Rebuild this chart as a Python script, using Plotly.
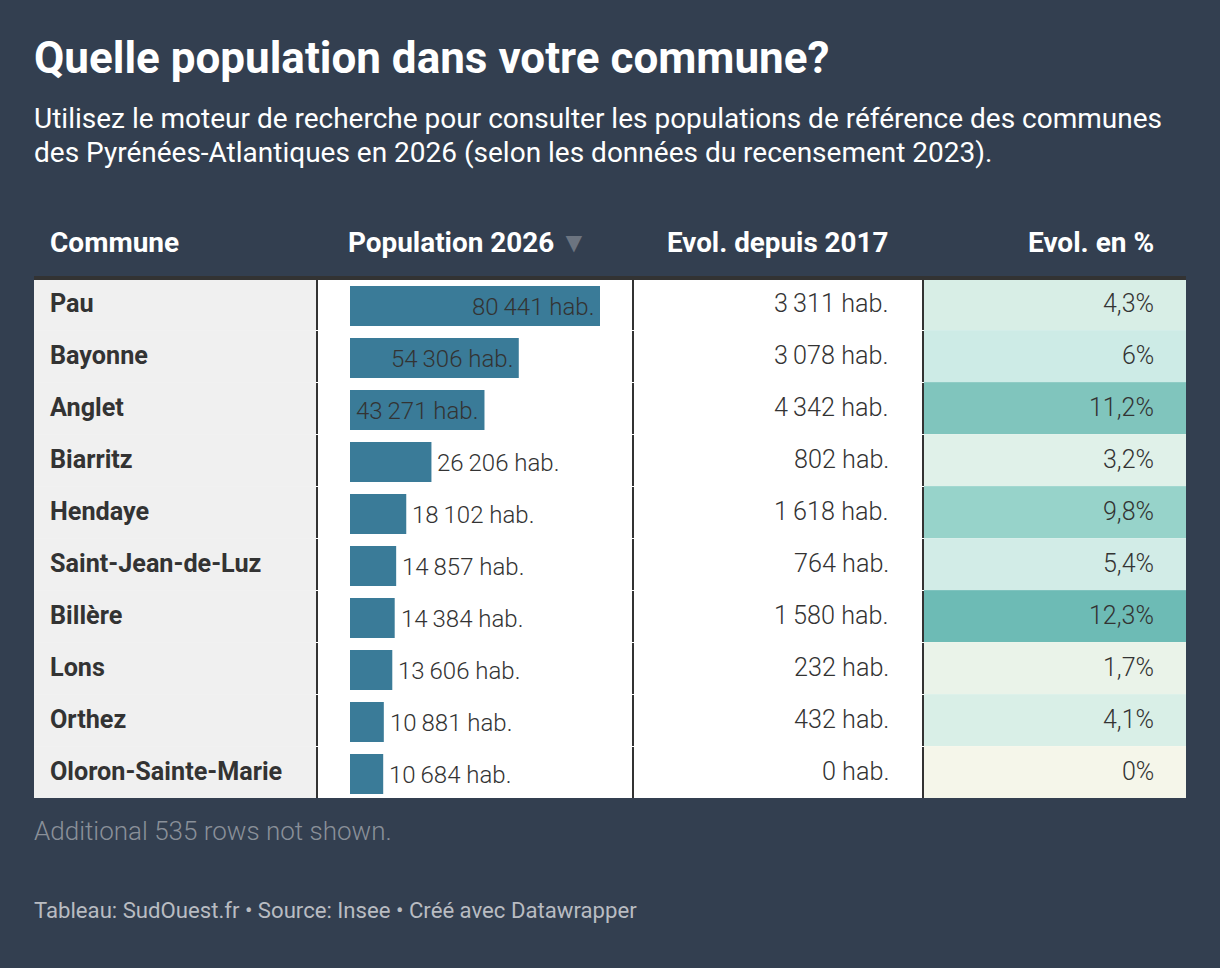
import plotly.graph_objects as go

communes = ["Pau", "Bayonne", "Anglet", "Biarritz", "Hendaye", "Saint-Jean-de-Luz",
            "Billère", "Lons", "Orthez", "Oloron-Sainte-Marie"]
population = [80441, 54306, 43271, 26206, 18102, 14857, 14384, 13606, 10881, 10684]
evol_hab = [3311, 3078, 4342, 802, 1618, 764, 1580, 232, 432, 0]
evol_pct = [4.3, 6, 11.2, 3.2, 9.8, 5.4, 12.3, 1.7, 4.1, 0]
headers = ["Commune", "Population 2026", "Evol. depuis 2017", "Evol. en %"]

W, H = 1220, 968
BG = "#333f50"
DARK = "#333333"
FONT = "Roboto"
ROW_H = 52
TOP = 278
N = len(communes)
BOTTOM = TOP + ROW_H * N


def fx(px):
    return px / W


def fy(px):
    return 1 - px / H


def hab(v):
    return f"{v:,}".replace(",", "\u2009") + " hab."


def pct(v):
    return f"{v:g}".replace(".", ",") + "%"


def label(x, y, text, size, color, weight=400, anchor="left"):
    return dict(x=fx(x), y=fy(y), xref="paper", yref="paper", text=text, showarrow=False,
                xanchor=anchor, yanchor="middle", borderpad=0,
                font=dict(family=FONT, size=size, color=color, weight=weight))


fig = go.Figure()

# Evol. en % column, coloured through a scale
fig.add_trace(go.Heatmap(
    z=[[v] for v in evol_pct], x=[0], y=communes, xaxis="x2", yaxis="y2",
    zmin=0, zmax=12.3, showscale=False, hoverinfo="skip", xgap=0, ygap=0,
    colorscale=[[0, "#f5f6ea"], [0.138, "#eaf3e9"], [0.26, "#e0f1e9"], [0.35, "#d8eee6"],
                [0.44, "#d2ece7"], [0.488, "#cdebe6"], [0.797, "#97d3ca"],
                [0.911, "#80c5bd"], [1, "#6dbbb5"]],
))

fig.add_trace(go.Bar(
    x=population, y=communes, orientation="h", width=40 / 52,
    marker=dict(color="#3a7b98", line_width=0), hoverinfo="skip",
))

shapes = [
    dict(type="rect", xref="paper", yref="paper", x0=fx(34), x1=fx(316), y0=fy(TOP), y1=fy(BOTTOM),
         fillcolor="#f0f0f0", line_width=0, layer="below"),
    dict(type="rect", xref="paper", yref="paper", x0=fx(316), x1=fx(924), y0=fy(TOP), y1=fy(BOTTOM),
         fillcolor="#ffffff", line_width=0, layer="below"),
    dict(type="rect", xref="paper", yref="paper", x0=fx(34), x1=fx(1186), y0=fy(276), y1=fy(280),
         fillcolor=DARK, line_width=0),
]
for i in range(N):
    y0 = TOP + i * ROW_H
    if i > 0:
        shapes.append(dict(type="rect", xref="paper", yref="paper", x0=fx(34), x1=fx(1186),
                           y0=fy(y0), y1=fy(y0 + 1), fillcolor="rgba(255,255,255,0.12)", line_width=0))
    for x in (316, 632, 922):
        shapes.append(dict(type="rect", xref="paper", yref="paper", x0=fx(x), x1=fx(x + 2),
                           y0=fy(y0 + 1), y1=fy(y0 + ROW_H), fillcolor=DARK, line_width=0))

annotations = [
    label(33, 58, "Quelle population dans votre commune?", 44, "#ffffff", 700),
    label(33, 118.4, "Utilisez le moteur de recherche pour consulter les populations de référence des communes", 28, "#ffffff"),
    label(33, 152, "des Pyrénées-Atlantiques en 2026 (selon les données du recensement 2023).", 28, "#ffffff"),
    label(49, 242, headers[0], 28, "#ffffff", 700),
    label(347, 242, headers[1], 27.9, "#ffffff", 700),
    label(889, 242, headers[2], 27.8, "#ffffff", 700, "right"),
    label(1155, 242, headers[3], 28, "#ffffff", 700, "right"),
    label(559, 243, "▼", 28, "#6c7480"),
    label(33, 831, "Additional 535 rows not shown.", 26, "#8a9099", 300),
    label(33, 910, "Tableau: SudOuest.fr • Source: Insee • Créé avec Datawrapper", 22.15, "#b9bcc2"),
]
for i, name in enumerate(communes):
    yc = TOP + i * ROW_H + 26
    annotations.append(label(49, yc - 0.6, name, 25.2, DARK, 700))
    annotations.append(label(890, yc - 0.6, hab(evol_hab[i]), 25.2, DARK, 300, "right"))
    annotations.append(label(1155, yc - 0.6, pct(evol_pct[i]), 25, DARK, 300, "right"))
    inside = population[i] > 40000
    annotations.append(dict(
        x=population[i], y=communes[i], xref="x", yref="y", text=hab(population[i]), showarrow=False,
        xanchor="right" if inside else "left", xshift=-5 if inside else 5, yshift=-1,
        yanchor="middle", borderpad=0, font=dict(family=FONT, size=24, color=DARK, weight=300),
    ))

fig.update_layout(
    width=W, height=H, margin=dict(l=0, r=0, t=0, b=0), autosize=False,
    paper_bgcolor=BG, plot_bgcolor="rgba(0,0,0,0)", showlegend=False,
    shapes=shapes, annotations=annotations,
    xaxis=dict(domain=[fx(350), fx(600)], range=[0, 80441], visible=False, fixedrange=True),
    yaxis=dict(domain=[fy(TOP + 2 + ROW_H * N), fy(TOP + 2)], type="category", categoryorder="array",
               categoryarray=communes, range=[N - 0.5, -0.5], visible=False, fixedrange=True),
    xaxis2=dict(domain=[fx(924), fx(1186)], visible=False, fixedrange=True),
    yaxis2=dict(domain=[fy(BOTTOM), fy(TOP)], type="category", categoryorder="array",
                categoryarray=communes, range=[N - 0.5, -0.5], visible=False, fixedrange=True,
                anchor="x2"),
)

fig.write_html("out.html", config=dict(displayModeBar=False),
               post_script="document.body.style.margin='0';")
